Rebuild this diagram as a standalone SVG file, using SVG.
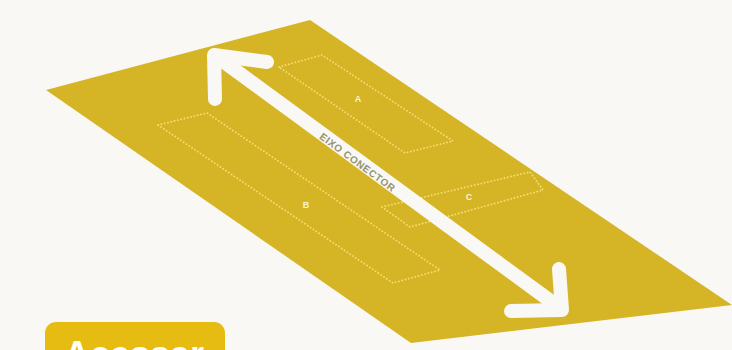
<svg xmlns="http://www.w3.org/2000/svg" width="732" height="350" viewBox="0 0 732 350">
  <defs>
    <style>
      .zone{fill:none;stroke:#F6DF70;stroke-width:1.8;stroke-dasharray:0.1 3.3;stroke-linecap:round;stroke-linejoin:round}
      .zlabel{font-family:"Liberation Sans",Arial,sans-serif;font-weight:bold;font-size:9px;fill:#FBF3D0;text-anchor:middle}
      .axis{fill:none;stroke:#F9F8F5;stroke-width:14;stroke-linecap:round;stroke-linejoin:round}
    </style>
  </defs>
  <rect width="732" height="350" fill="#F9F8F5"/>
  <g id="plane">
    <polygon points="46,90 310,20 732,305 411,343" fill="#D5B526"/>
  </g>
  <g id="zone-A">
    <polygon class="zone" points="279,67 322,55 453,141 405,153"/>
    <text class="zlabel" x="358" y="102">A</text>
  </g>
  <g id="zone-B">
    <polygon class="zone" points="158,125 207,113 440,270 393,283"/>
    <text class="zlabel" x="306" y="208">B</text>
  </g>
  <g id="zone-C">
    <polygon class="zone" points="382,207 530,172 543,190 410,227"/>
    <text class="zlabel" x="469" y="200">C</text>
  </g>
  <g id="connectors">
    <path class="axis" d="M216,56 L560,308"/>
    <path class="axis" d="M215,99 L214,55 L267,62"/>
    <path class="axis" d="M559,269 L562,310 L511,311"/>
    <text x="0" y="0" transform="translate(357,163) rotate(36.5)" font-family="Liberation Sans,Arial,sans-serif" font-weight="bold" font-size="10" letter-spacing="0.6" fill="#959470" text-anchor="middle" dominant-baseline="middle">EIXO CONECTOR</text>
  </g>
  <g id="button">
    <rect x="45" y="322" width="180" height="60" rx="11" fill="#E6BB12"/>
    <text x="64" y="367" font-family="Liberation Sans,Arial,sans-serif" font-weight="bold" font-size="36" fill="#FFFFFF">Acessar</text>
  </g>
</svg>
